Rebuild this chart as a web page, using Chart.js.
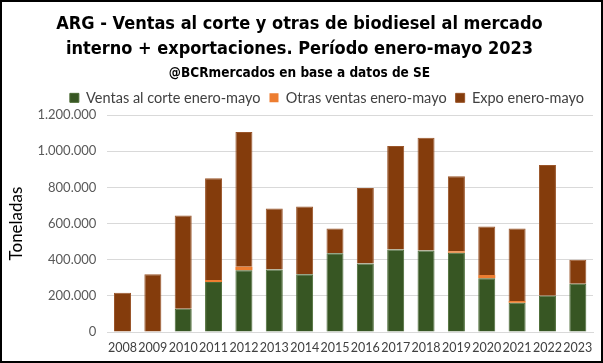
<!DOCTYPE html>
<html>
<head>
<meta charset="utf-8">
<script src="https://cdn.jsdelivr.net/npm/chart.js@4/dist/chart.umd.min.js"></script>
<style>
  html, body { margin: 0; padding: 0; background: #fff; }
  #wrap { width: 603px; height: 363px; box-sizing: border-box; border: 2px solid #000; position: relative; }
  #chart { display: block; }
</style>
</head>
<body>
<div id="wrap"><canvas id="chart" width="599" height="359"></canvas></div>
<script>
// años del período enero-mayo
const years = ['2008', '2009', '2010', '2011', '2012', '2013', '2014', '2015',
  '2016', '2017', '2018', '2019', '2020', '2021', '2022', '2023'];

// toneladas
const ventasCorte = [0, 0, 129000, 276000, 342000, 346000, 319000, 435000,
  379000, 457000, 451000, 438000, 297000, 162000, 201000, 267000];
const otrasVentas = [0, 0, 0, 11000, 19000, 0, 0, 0,
  0, 0, 0, 9000, 18000, 9000, 0, 0];
const expo = [217000, 319000, 516000, 564000, 746000, 337000, 375000, 138000,
  417000, 572000, 623000, 415000, 269000, 402000, 723000, 133000];

const yTicks = [0, 200000, 400000, 600000, 800000, 1000000, 1200000];

const fmt = v => String(v).replace(/\B(?=(\d{3})+(?!\d))/g, '.');

const titleFont = '"DejaVu Sans Condensed", "Liberation Sans Narrow", sans-serif';

const ctx = document.getElementById('chart').getContext('2d');

new Chart(ctx, {
  type: 'bar',
  data: {
    labels: years,
    datasets: [
      {
        label: 'Ventas al corte enero-mayo',
        data: ventasCorte,
        backgroundColor: '#375623',
        borderColor: '#4b6b35',
        borderWidth: 1,
      },
      {
        label: 'Otras ventas enero-mayo',
        data: otrasVentas,
        backgroundColor: '#ed7d31',
        borderWidth: 0,
      },
      {
        label: 'Expo enero-mayo',
        data: expo,
        backgroundColor: '#843c0c',
        borderColor: '#9a552a',
        borderWidth: 1,
      },
    ],
  },
  options: {
    responsive: false,
    animation: false,
    layout: { padding: { left: 4, right: 8, top: 10, bottom: -2 } },
    datasets: {
      bar: { categoryPercentage: 1.0, barPercentage: 0.56 },
    },
    plugins: {
      title: {
        display: true,
        text: ['ARG - Ventas al corte y otras de biodiesel al mercado',
               'interno + exportaciones. Período enero-mayo 2023'],
        color: '#000',
        font: { family: titleFont, size: 18, weight: 'bold', lineHeight: 1.4 },
        padding: { top: 0, bottom: 3 },
      },
      subtitle: {
        display: true,
        text: '@BCRmercados en base a datos de SE',
        color: '#000',
        font: { family: titleFont, size: 13.5, weight: 'bold' },
        padding: { top: 0, bottom: 0 },
      },
      legend: {
        position: 'top',
        align: 'end',
        labels: {
          boxWidth: 9,
          boxHeight: 9,
          padding: 9,
          color: '#404040',
          font: { family: 'Lato, sans-serif', size: 14.5 },
        },
      },
      tooltip: { enabled: false },
    },
    scales: {
      x: {
        stacked: true,
        grid: { display: false, drawTicks: false },
        border: { display: true, color: '#d9d9d9' },
        ticks: {
          color: '#404040',
          font: { family: 'Lato, sans-serif', size: 12.5 },
          maxRotation: 0,
          autoSkip: false,
          padding: 8,
        },
      },
      y: {
        stacked: true,
        min: 0,
        max: 1200000,
        afterBuildTicks: axis => { axis.ticks = yTicks.map(v => ({ value: v })); },
        grid: { color: '#d9d9d9', lineWidth: 1, drawTicks: false },
        border: { display: false },
        ticks: {
          color: '#595959',
          font: { family: 'Lato, sans-serif', size: 13 },
          padding: 11,
          callback: v => fmt(v),
        },
        title: {
          display: true,
          text: 'Toneladas',
          color: '#000',
          font: { family: 'Lato, sans-serif', size: 17 },
          padding: { top: 0, bottom: 0 },
        },
      },
    },
  },
});
</script>
</body>
</html>
